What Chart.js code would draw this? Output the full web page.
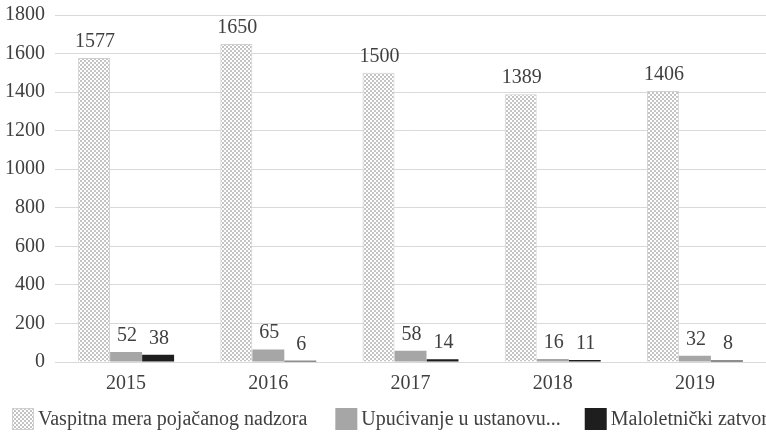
<!DOCTYPE html>
<html>
<head>
<meta charset="utf-8">
<script src="https://cdn.jsdelivr.net/npm/chart.js@4/dist/chart.umd.min.js"></script>
<style>
  html, body { margin: 0; padding: 0; background: #ffffff; overflow: hidden; }
  #wrap { width: 766px; height: 433px; position: relative; }
</style>
</head>
<body>
<div id="wrap"><canvas id="c" width="766" height="433"></canvas></div>
<script>
const categories = ['2015', '2016', '2017', '2018', '2019'];
const seriesNames = ['Vaspitna mera pojačanog nadzora', 'Upućivanje u ustanovu...', 'Maloletnički zatvor'];
const nadzor = [1577, 1650, 1500, 1389, 1406];
const ustanova = [52, 65, 58, 16, 32];
const zatvor = [38, 6, 14, 11, 8];
const yTicks = [0, 200, 400, 600, 800, 1000, 1200, 1400, 1600, 1800];

const FONT = '"Liberation Serif", "Times New Roman", serif';
const TEXT = '#404040';

// checker pattern for first series
function makePattern() {
  const p = document.createElement('canvas');
  p.width = 4; p.height = 4;
  const g = p.getContext('2d');
  g.fillStyle = '#ffffff';
  g.fillRect(0, 0, 4, 4);
  g.fillStyle = '#c4c4c4';
  g.fillRect(0, 0, 2, 2);
  g.fillRect(2, 2, 2, 2);
  return g.createPattern(p, 'repeat');
}
const pattern = makePattern();

const dataLabels = {
  id: 'dataLabels',
  afterDatasetsDraw(chart) {
    const ctx = chart.ctx;
    ctx.save();
    ctx.font = '20px ' + FONT;
    ctx.fillStyle = TEXT;
    ctx.textAlign = 'center';
    ctx.textBaseline = 'alphabetic';
    chart.data.datasets.forEach((ds, i) => {
      const meta = chart.getDatasetMeta(i);
      meta.data.forEach((bar, j) => {
        ctx.fillText(String(ds.data[j]), bar.x + 1, bar.y - 11);
      });
    });
    ctx.restore();
  }
};

const customLegend = {
  id: 'customLegend',
  afterDraw(chart) {
    const ctx = chart.ctx;
    ctx.save();
    ctx.font = '20px ' + FONT;
    ctx.textBaseline = 'middle';
    ctx.textAlign = 'left';
    const y = 419;
    let x = 12;
    const box = 22;
    const gaps = [28, 24, 0];
    chart.data.datasets.forEach((ds, i) => {
      ctx.fillStyle = ds.backgroundColor;
      ctx.fillRect(x, y - box / 2, box, box);
      if (i === 0) {
        ctx.strokeStyle = '#d0d0d0';
        ctx.lineWidth = 1;
        ctx.strokeRect(x + 0.5, y - box / 2 + 0.5, box - 1, box - 1);
      }
      x += box + 4;
      ctx.fillStyle = TEXT;
      ctx.fillText(ds.label, x, y + 1);
      x += ctx.measureText(ds.label).width + gaps[i];
    });
    ctx.restore();
  }
};

new Chart(document.getElementById('c'), {
  type: 'bar',
  data: {
    labels: categories,
    datasets: [
      { label: seriesNames[0], data: nadzor, backgroundColor: pattern, borderColor: '#d0d0d0', borderWidth: 1 },
      { label: seriesNames[1], data: ustanova, backgroundColor: '#a6a6a6', borderWidth: 0 },
      { label: seriesNames[2], data: zatvor, backgroundColor: '#1e1e1e', borderWidth: 0 }
    ]
  },
  options: {
    responsive: false,
    animation: false,
    devicePixelRatio: 1,
    layout: { padding: { top: 15, right: 0, bottom: 37, left: 0 } },
    datasets: { bar: { categoryPercentage: 0.675, barPercentage: 1.0 } },
    plugins: {
      legend: { display: false },
      tooltip: { enabled: false },
      title: { display: false }
    },
    scales: {
      x: {
        afterFit(scale) { scale.height = 34; scale.paddingLeft = 0; scale.paddingRight = 0; },
        grid: { display: false, drawTicks: false },
        border: { display: false },
        ticks: { font: { family: FONT, size: 20 }, color: TEXT, padding: 10, maxRotation: 0 }
      },
      y: {
        min: 0, max: 1800,
        afterBuildTicks(scale) { scale.ticks = yTicks.map(v => ({ value: v })); },
        afterFit(scale) { scale.width = 55; scale.paddingTop = 0; scale.paddingBottom = 0; },
        grid: { color: '#d9d9d9', lineWidth: 1, drawTicks: false },
        border: { display: false },
        ticks: { font: { family: FONT, size: 20 }, color: TEXT, padding: 10, callback: v => String(v) }
      }
    }
  },
  plugins: [dataLabels, customLegend]
});
</script>
</body>
</html>
